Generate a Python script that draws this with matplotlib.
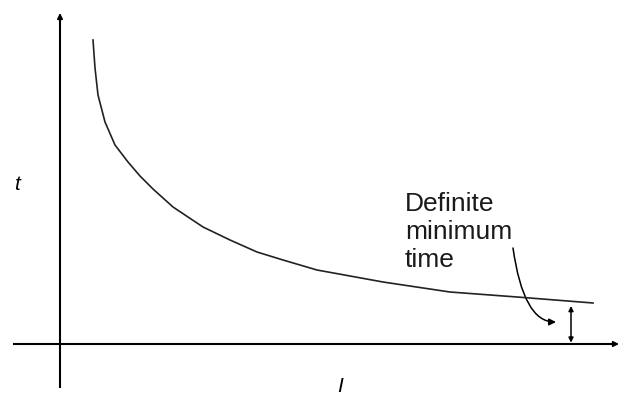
import matplotlib
matplotlib.use("Agg")
import matplotlib.pyplot as plt
from matplotlib.patches import FancyArrowPatch

# Inverse-time curve (I, t) (origin at the axes crossing)
I_vals = [33, 35, 38, 45, 55, 68, 80, 93, 113, 143, 170, 197, 223, 257, 323, 390, 457, 533]
t_vals = [304, 276, 249, 222, 199, 182, 168, 155, 137, 117, 104, 92, 84, 74, 62, 52, 47, 41]

# Definite minimum time marker
t_min = 38
I_min_marker = 511
label = "Definite\nminimum\ntime"
x_label = "I"
y_label = "t"

fig = plt.figure(figsize=(6.19, 4.04), dpi=100)
ax = fig.add_axes([0, 0, 1, 1])
ax.set_xlim(-60, 559)
ax.set_ylim(-60, 344)
ax.axis("off")

# axes lines
ax.plot([-47, 556], [0, 0], color="black", lw=1.5, solid_capstyle="butt")
ax.plot([0, 0], [-44, 324], color="black", lw=1.5, solid_capstyle="butt")
ax.annotate("", xy=(0, 331), xytext=(0, 320),
            arrowprops=dict(arrowstyle="-|>", color="black", lw=1.2,
                            mutation_scale=8, shrinkA=0, shrinkB=0))
ax.annotate("", xy=(559, 0), xytext=(549, 0),
            arrowprops=dict(arrowstyle="-|>", color="black", lw=1.2,
                            mutation_scale=8, shrinkA=0, shrinkB=0))

# curve
ax.plot(I_vals, t_vals, color="#222222", lw=1.2)

# axis labels
ax.text(-43, 159, y_label, fontsize=15, style="italic", family="Liberation Sans",
        ha="center", va="center")
ax.text(280, -43, x_label, fontsize=15, style="italic", family="Liberation Sans",
        ha="center", va="center")

# annotation text
ax.text(345, 152, label, fontsize=19, family="Liberation Sans",
        ha="left", va="top", linespacing=1.22, color="#1a1a1a")

# curved pointer arrow
arr = FancyArrowPatch((453, 96), (496, 22),
                      connectionstyle="angle3,angleA=-82,angleB=0",
                      arrowstyle="-|>", mutation_scale=10, lw=1.1,
                      color="black", shrinkA=0, shrinkB=0)
ax.add_patch(arr)

# double arrow showing definite minimum time
ax.annotate("", xy=(I_min_marker, 0), xytext=(I_min_marker, t_min),
            arrowprops=dict(arrowstyle="<|-|>", color="black", lw=1.1,
                            mutation_scale=7, shrinkA=0, shrinkB=1))

fig.savefig("out.png", dpi=100)
